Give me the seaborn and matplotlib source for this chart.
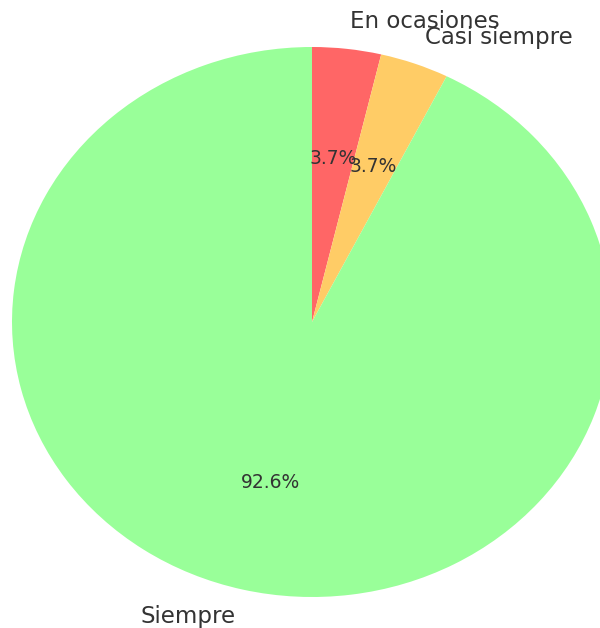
import matplotlib
matplotlib.use("Agg")
import matplotlib.pyplot as plt
import seaborn as sns

# Datos de la gráfica
categorias = ["En ocasiones", "Casi siempre", "Siempre"]
respuestas = [1, 1, 25]
colores = ["#ff6666", "#ffcc66", "#99ff99"]

sns.set_theme(style="white")
plt.rcParams["font.family"] = ["DejaVu Sans"]

fig = plt.figure(figsize=(6, 6.28), dpi=100)
# el pastel sale algo ovalado y recortado a la derecha, como en la imagen
ax = fig.add_axes([12 / 600, 31 / 628, 600 / 600, 550 / 628])

wedges, textos, autotextos = ax.pie(
    respuestas,
    labels=categorias,
    colors=colores,
    autopct="%1.1f%%",
    startangle=90,
    counterclock=False,
    wedgeprops={"linewidth": 0},
    textprops={"color": "#333333"},
)
for t in textos:
    t.set_fontsize(16.5)
for t in autotextos:
    t.set_fontsize(13.5)

ax.set_aspect("auto")
ax.set_xlim(-1, 1)
ax.set_ylim(-1, 1)
ax.axis("off")

fig.savefig("out.png", dpi=100)
